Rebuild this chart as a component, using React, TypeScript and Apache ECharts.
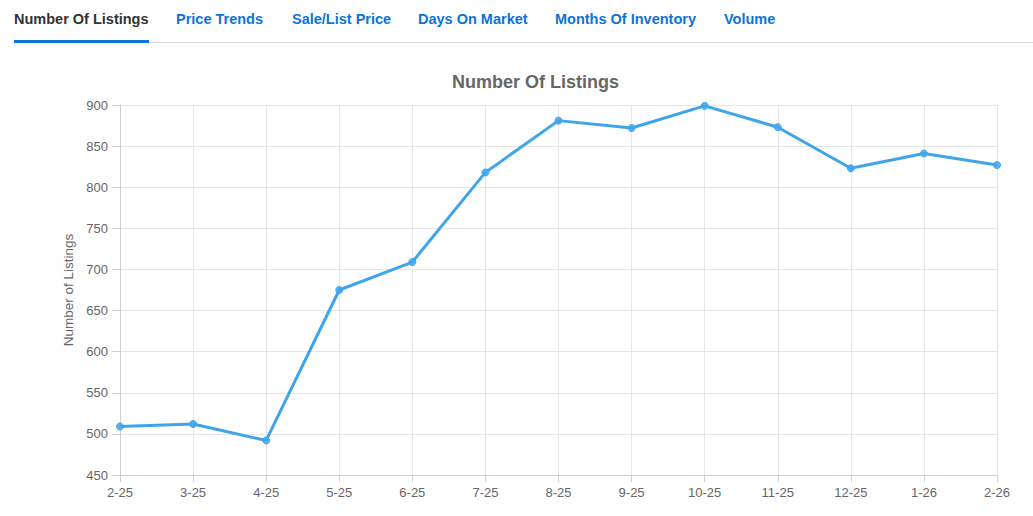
import React, { useEffect, useRef } from "react";
import * as echarts from "echarts";

const categories = ["2-25", "3-25", "4-25", "5-25", "6-25", "7-25", "8-25", "9-25", "10-25", "11-25", "12-25", "1-26", "2-26"];
const listings = [509, 512, 492, 675, 709, 818, 881, 872, 899, 873, 823, 841, 827];
const tabs = ["Number Of Listings", "Price Trends", "Sale/List Price", "Days On Market", "Months Of Inventory", "Volume"];
const tabX = [14, 176, 292, 418, 555, 724];
const chartTitle = "Number Of Listings";
const yAxisName = "Number of Listings";

export default function App() {
  const ref = useRef<HTMLDivElement>(null);
  useEffect(() => {
    if (!ref.current) return;
    const chart = echarts.init(ref.current, null, { renderer: "svg" });
    chart.setOption({
      animation: false,
      title: {
        text: chartTitle,
        left: 447,
        top: 68,
        textStyle: { fontFamily: "Liberation Sans", fontSize: 18, fontWeight: "bold", color: "#666" },
      },
      grid: { left: 120, right: 36, top: 105, bottom: 41 },
      xAxis: {
        type: "category",
        data: categories,
        boundaryGap: false,
        axisLine: { lineStyle: { color: "#d0d0d0" } },
        axisTick: { show: true, length: 7, alignWithLabel: true, lineStyle: { color: "#d0d0d0" } },
        axisLabel: { color: "#666", fontSize: 13, fontFamily: "Liberation Sans", margin: 11 },
        splitLine: { show: true, lineStyle: { color: "#e6e6e6" } },
      },
      yAxis: {
        type: "value",
        min: 450,
        max: 900,
        interval: 50,
        name: yAxisName,
        nameLocation: "middle",
        nameGap: 45,
        nameTextStyle: { color: "#666", fontSize: 13.5, fontFamily: "Liberation Sans" },
        axisLine: { show: true, lineStyle: { color: "#d0d0d0" } },
        axisTick: { show: true, length: 8, lineStyle: { color: "#d0d0d0" } },
        axisLabel: { color: "#666", fontSize: 13, fontFamily: "Liberation Sans", margin: 12 },
        splitLine: { show: true, lineStyle: { color: "#e6e6e6" } },
      },
      series: [
        {
          type: "line",
          data: listings,
          symbol: "circle",
          symbolSize: 7,
          lineStyle: { color: "#3fa5eb", width: 3 },
          itemStyle: { color: "rgba(63,165,235,0.85)", borderColor: "#3fa5eb", borderWidth: 1 },
        },
      ],
    });
    return () => chart.dispose();
  }, []);

  return (
    <div style={{ position: "fixed", left: 0, top: 0, width: 1033, height: 516, background: "#fff", fontFamily: "Liberation Sans, Arial, sans-serif" }}>
      <div style={{ position: "absolute", left: 14, right: 0, top: 42, height: 1, background: "#dcdcdc" }} />
      {tabs.map((t, i) => (
        <div
          key={t}
          style={{
            position: "absolute",
            left: tabX[i],
            top: 10,
            fontSize: 14.5,
            fontWeight: "bold",
            whiteSpace: "nowrap",
            color: i === 0 ? "#333" : "#0a74da",
            lineHeight: "18px",
          }}
        >
          {t}
          {i === 0 && <div style={{ position: "absolute", left: 0, right: 0, top: 30, height: 3, background: "#0a74da" }} />}
        </div>
      ))}
      <div ref={ref} style={{ position: "absolute", left: 0, top: 0, width: 1033, height: 516 }} />
    </div>
  );
}
